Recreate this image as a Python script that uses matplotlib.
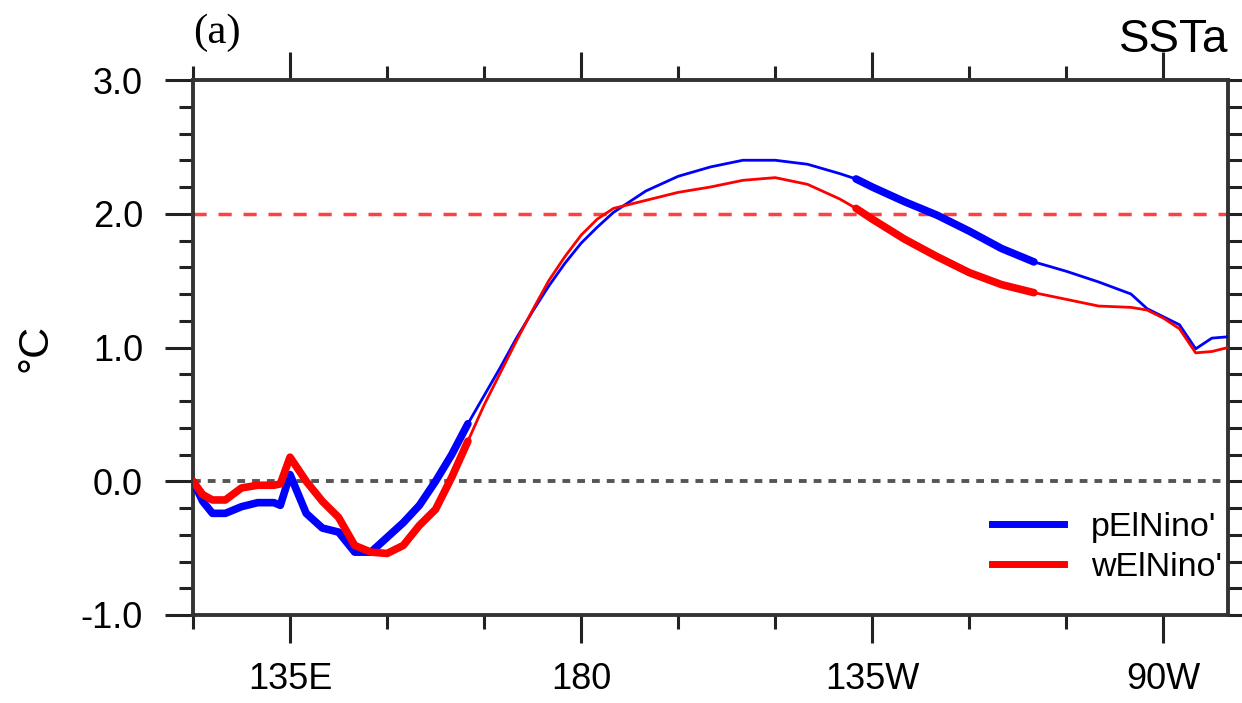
import numpy as np
import matplotlib
matplotlib.use("Agg")
import matplotlib.pyplot as plt
from matplotlib.lines import Line2D

# longitude (degrees east) and composite SSTa for the two El Nino groups
lon = [120, 121.5, 123, 125, 127.5, 130, 132.5, 133.5, 135, 137.5, 140, 142.5,
       145, 147.5, 150, 152.5, 155, 157.5, 160, 162.5, 165, 167.5, 170, 172.5,
       175, 177.5, 180, 182.5, 185, 190, 195, 200, 205, 210, 215, 220, 222.5,
       225, 230, 235, 240, 245, 250, 255, 260, 265, 267.5, 270, 272.5, 275,
       277.5, 280]

p_elnino = [0.0, -0.15, -0.24, -0.24, -0.19, -0.16, -0.16, -0.18, 0.05, -0.24,
            -0.35, -0.38, -0.53, -0.53, -0.42, -0.31, -0.18, 0.0, 0.20, 0.43,
            0.64, 0.85, 1.07, 1.27, 1.46, 1.63, 1.78, 1.90, 2.01, 2.17, 2.28,
            2.35, 2.40, 2.40, 2.37, 2.30, 2.26, 2.20, 2.09, 1.99, 1.87, 1.74,
            1.64, 1.57, 1.49, 1.40, 1.29, 1.23, 1.17, 0.99, 1.07, 1.08]

w_elnino = [0.0, -0.10, -0.14, -0.14, -0.05, -0.03, -0.03, -0.02, 0.18, 0.0,
            -0.15, -0.27, -0.48, -0.53, -0.54, -0.48, -0.33, -0.21, 0.03, 0.30,
            0.57, 0.81, 1.05, 1.28, 1.50, 1.68, 1.84, 1.96, 2.04, 2.10, 2.16,
            2.20, 2.25, 2.27, 2.22, 2.11, 2.04, 1.96, 1.81, 1.68, 1.56, 1.47,
            1.41, 1.36, 1.31, 1.30, 1.28, 1.22, 1.14, 0.96, 0.97, 1.00]

# longitude ranges where the composites are significant (drawn thick)
p_sig = [(120, 162.5), (222.5, 250)]
w_sig = [(120, 162.5), (222.5, 250)]

series_labels = ["pElNino'", "wElNino'"]
xtick_pos = [135, 180, 225, 270]
xtick_labels = ["135E", "180", "135W", "90W"]

plt.rcParams['font.family'] = ['Liberation Sans', 'DejaVu Sans']

fig = plt.figure(figsize=(12.42, 7.03), dpi=100)
ax = fig.add_axes([193 / 1242, 1 - 615 / 703, (1228 - 193) / 1242, (615 - 80) / 703])

lon_arr = np.array(lon)


def draw(vals, sig, color):
    vals = np.array(vals)
    ax.plot(lon_arr, vals, color=color, lw=2.0, solid_capstyle='round', zorder=3)
    mask = np.zeros(len(lon_arr), dtype=bool)
    for a, b in sig:
        mask |= (lon_arr >= a) & (lon_arr <= b)
    ax.plot(lon_arr, np.where(mask, vals, np.nan), color=color, lw=5.5,
            solid_capstyle='round', zorder=3)


draw(p_elnino, p_sig, 'blue')
draw(w_elnino, w_sig, 'red')

# reference lines
ax.axhline(2.0, color='red', lw=2.5, ls=(0, (3.8, 3.4)), alpha=0.75, zorder=2)
ax.axhline(0.0, color='#555555', lw=2.8, ls=(0, (2.0, 1.8)), zorder=2)

ax.set_xlim(120, 280)
ax.set_ylim(-1.0, 3.0)
ax.set_xticks(xtick_pos)
ax.set_xticklabels(xtick_labels)
ax.set_xticks(np.arange(120, 281, 15), minor=True)
ax.set_yticks(np.arange(-1.0, 3.01, 1.0))
ax.set_yticklabels(["%.1f" % v for v in np.arange(-1.0, 3.01, 1.0)])
ax.set_yticks(np.arange(-1.0, 3.01, 0.2), minor=True)

ax.tick_params(which='both', direction='out', top=True, right=True,
               width=2.2, color='#222222')
ax.tick_params(which='major', length=20, labelsize=26, pad=14)
ax.tick_params(which='minor', length=10)
ax.tick_params(axis='y', which='major', pad=16)
for s in ax.spines.values():
    s.set_linewidth(2.8)
    s.set_color('#333333')

ax.set_ylabel('°C', fontsize=31, labelpad=18)

ax.text(0.0, 1.069, '(a)', transform=ax.transAxes, fontsize=31,
        family=['Liberation Serif', 'DejaVu Serif'], ha='left', va='baseline')
ax.text(1.0, 1.052, 'SSTa', transform=ax.transAxes, fontsize=33,
        ha='right', va='baseline')

handles = [Line2D([], [], color='blue', lw=5), Line2D([], [], color='red', lw=5)]
ax.legend(handles, series_labels, loc='lower right', frameon=False, fontsize=24.5,
          handlelength=2.1, handletextpad=0.8, labelspacing=0.25,
          borderpad=0.0, borderaxespad=0.0, bbox_to_anchor=(0.994, 0.06))

fig.savefig('out.png', dpi=100)
